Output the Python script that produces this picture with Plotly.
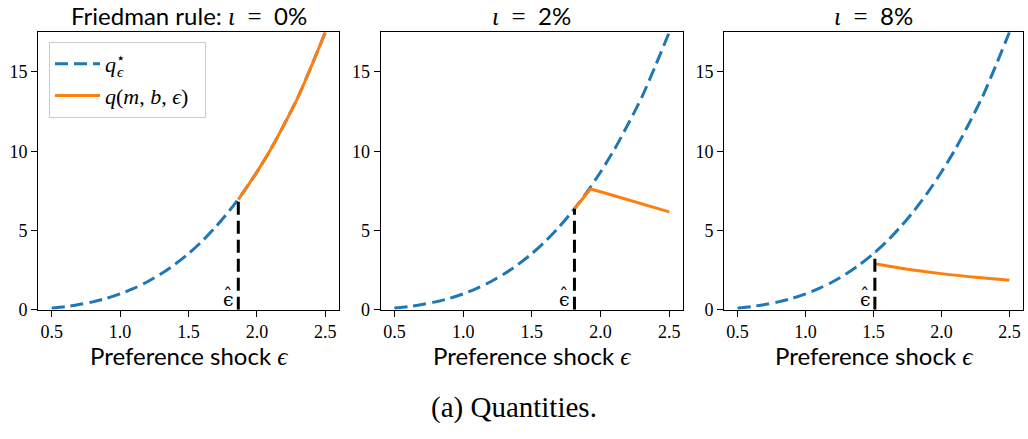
import numpy as np
import plotly.graph_objects as go

# ---------------- data ----------------
eps_grid = [0.5, 0.6, 0.7, 0.8, 0.9, 1.0, 1.1, 1.2, 1.3, 1.4, 1.5,
            1.6, 1.7, 1.8, 1.9, 2.0, 2.1, 2.2, 2.3, 2.4, 2.5]
q_star = [0.11, 0.20, 0.33, 0.50, 0.72, 1.00, 1.35, 1.77, 2.27, 2.86, 3.54,
          4.33, 5.24, 6.26, 7.41, 8.69, 10.1, 11.7, 13.4, 15.4, 17.5]

panel_titles = ["Friedman rule: ", "", ""]
iota_labels = ["0%", "2%", "8%"]
eps_hat = [1.864, 1.81, 1.51]

q_eps_1 = [1.864, 1.9, 2.0, 2.1, 2.2, 2.3, 2.4, 2.5]
q_val_1 = [6.95, 7.41, 8.69, 10.1, 11.7, 13.4, 15.4, 17.5]
q_eps_2 = [1.81, 1.927, 2.0, 2.1, 2.2, 2.3, 2.4, 2.5]
q_val_2 = [6.37, 7.62, 7.44, 7.19, 6.92, 6.66, 6.41, 6.17]
q_eps_3 = [1.51, 1.75, 2.0, 2.25, 2.5]
q_val_3 = [2.90, 2.56, 2.28, 2.05, 1.86]

x_ticks = [0.5, 1.0, 1.5, 2.0, 2.5]
y_ticks = [0, 5, 10, 15]
x_label = "Preference shock "
caption = "(a) Quantities."

# ---------------- layout constants ----------------
W, H = 1028, 439
panel_px = [(38, 339), (380.7, 683), (724, 1023)]
top_px, bot_px = 33, 317
SANS = "Lato"
SERIF = "Liberation Serif"
BLUE = "#1f77b4"
ORANGE = "#ff7f0e"

q_lists = [(q_eps_1, q_val_1, "spline"), (q_eps_2, q_val_2, "linear"),
           (q_eps_3, q_val_3, "spline")]

fig = go.Figure()
annotations = []
for i in range(3):
    xa = "x" if i == 0 else f"x{i+1}"
    ya = "y" if i == 0 else f"y{i+1}"
    fig.add_trace(go.Scatter(
        x=eps_grid, y=q_star, mode="lines", xaxis=xa, yaxis=ya,
        line=dict(color=BLUE, width=3, dash="13px,6px", shape="spline", smoothing=0.8),
        name=("<i>q</i><sup><span style='letter-spacing:-8px'>⋆</span></sup>"
              "<sub><i>ϵ</i></sub>"),
        showlegend=(i == 0)))
    qe, qv, shp = q_lists[i]
    fig.add_trace(go.Scatter(
        x=qe, y=qv, mode="lines", xaxis=xa, yaxis=ya,
        line=dict(color=ORANGE, width=3, shape=shp),
        name="<i>q</i>(<i>m</i>, <i>b</i>, <i>ϵ</i>)&nbsp;&nbsp;", showlegend=(i == 0)))
    eh = eps_hat[i]
    top = float(np.interp(eh, eps_grid, q_star))
    fig.add_trace(go.Scatter(
        x=[eh, eh], y=[0, top], mode="lines", xaxis=xa, yaxis=ya,
        line=dict(color="black", width=3, dash="13px,6px"), showlegend=False))
    # epsilon-hat label: epsilon and hat as two texts
    annotations.append(dict(
        x=eh, y=0, xref=xa, yref=ya, xanchor="right", yanchor="bottom",
        xshift=-2, yshift=-2, showarrow=False,
        text="ϵ", font=dict(family="DejaVu Serif", size=19, color="black")))
    annotations.append(dict(
        x=eh, y=0, xref=xa, yref=ya, xanchor="right", yanchor="bottom",
        xshift=-3, yshift=2, showarrow=False,
        text="ˆ", font=dict(family="DejaVu Serif", size=19, color="black")))

    x0, x1 = panel_px[i]
    dom = [x0 / W, x1 / W]
    fig.layout[f"xaxis{'' if i == 0 else i+1}"] = dict(
        domain=dom, anchor=ya, range=[0.4, 2.6],
        tickvals=x_ticks, ticktext=[f"{v:.1f}" for v in x_ticks],
        ticks="outside", ticklen=6, tickwidth=1, tickcolor="black",
        showline=True, linecolor="black", linewidth=1, mirror=True,
        showgrid=False, zeroline=False,
        tickfont=dict(family=SERIF, size=18, color="black"))
    fig.layout[f"yaxis{'' if i == 0 else i+1}"] = dict(
        domain=[1 - bot_px / H, 1 - top_px / H], anchor=xa, range=[0, 17.5],
        tickvals=y_ticks, ticktext=[str(v) for v in y_ticks],
        ticks="outside", ticklen=6, tickwidth=1, tickcolor="black",
        showline=True, linecolor="black", linewidth=1, mirror=True,
        showgrid=False, zeroline=False,
        tickfont=dict(family=SERIF, size=18, color="black"))

    cx = (x0 + x1) / 2 / W
    title = (panel_titles[i] +
             f'<span style="font-family:{SERIF};font-size:25px"><i>ι</i>&nbsp;&nbsp;=&nbsp;&nbsp;</span>'
             + iota_labels[i])
    annotations.append(dict(
        x=cx, y=1 - 16 / H, xref="paper", yref="paper", xanchor="center",
        yanchor="middle", showarrow=False, text=title,
        font=dict(family=SANS, size=24, color="black")))
    annotations.append(dict(
        x=cx, y=1 - 364 / H, xref="paper", yref="paper", xanchor="center",
        yanchor="middle", showarrow=False,
        text=x_label + f'<span style="font-family:{SERIF};font-size:25px"><i>ϵ</i></span>',
        font=dict(family=SANS, size=24, color="black")))

annotations.append(dict(
    x=0.5, y=1 - 417 / H, xref="paper", yref="paper", xanchor="center",
    yanchor="middle", showarrow=False, text=caption,
    font=dict(family=SERIF, size=29, color="black")))

fig.update_layout(
    width=W, height=H, margin=dict(l=0, r=0, t=0, b=0),
    paper_bgcolor="white", plot_bgcolor="white",
    annotations=annotations,
    legend=dict(x=49 / W, y=1 - 43 / H, xanchor="left", yanchor="top",
                bgcolor="white", bordercolor="#cccccc", borderwidth=1,
                font=dict(family=SERIF, size=22, color="black"),
                itemwidth=45, tracegroupgap=0),
)

fig.write_html("out.html",
               config={"displayModeBar": False},
               post_script="document.body.style.margin='0px';"
                           "document.body.style.padding='0px';")
